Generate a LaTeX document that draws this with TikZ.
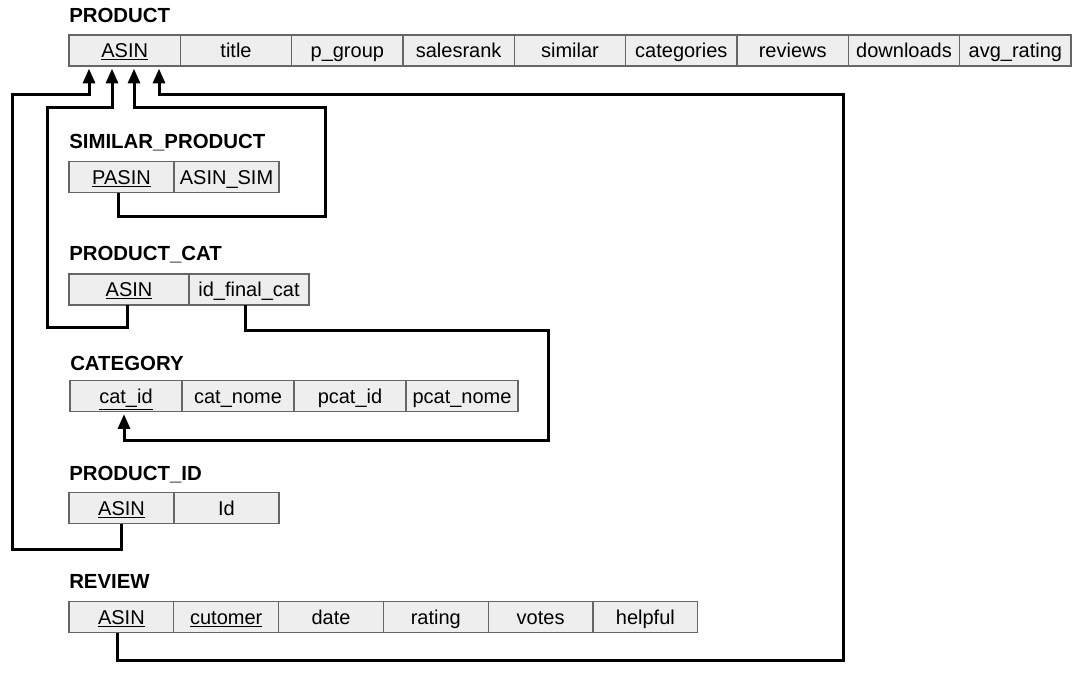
\documentclass[tikz,border=0pt]{standalone}
\usepackage{fontspec}
\setmainfont{Liberation Sans}
\usetikzlibrary{arrows.meta}
\definecolor{cellfill}{HTML}{EEEEEE}
\definecolor{cellborder}{HTML}{666666}
\begin{document}
\begin{tikzpicture}[x=0.75pt,y=-0.75pt,
  cell/.style={draw=cellborder, fill=cellfill, line width=0.9pt, inner sep=0pt, outer sep=0pt,
    minimum height=23.25pt, text height=10.7pt, text depth=0pt, anchor=north west,
    font=\fontsize{15pt}{18pt}\selectfont},
  ttl/.style={anchor=base west, inner sep=0pt, font=\fontsize{15.3pt}{18pt}\selectfont\bfseries},
  conn/.style={line width=2.25pt, line join=miter},
  fk/.style={conn, -{Triangle[length=11pt,width=9pt]}, shorten >=2pt}]
\useasboundingbox (0,0) rectangle (1084,679);

% PRODUCT
\node[ttl] (tprod) at (69,22.7) {PRODUCT};
\node[cell, minimum width=83.5pt] (p1) at (69,35) {\underline{ASIN}};
\node[cell, minimum width=83.5pt] (p2) at (p1.north east) {title};
\node[cell, minimum width=83.5pt] (p3) at (p2.north east) {p\_group};
\node[cell, minimum width=83.5pt] (p4) at (p3.north east) {salesrank};
\node[cell, minimum width=83.5pt] (p5) at (p4.north east) {similar};
\node[cell, minimum width=83.5pt] (p6) at (p5.north east) {categories};
\node[cell, minimum width=83.5pt] (p7) at (p6.north east) {reviews};
\node[cell, minimum width=83.5pt] (p8) at (p7.north east) {downloads};
\node[cell, minimum width=83.5pt] (p9) at (p8.north east) {avg\_rating};

% SIMILAR_PRODUCT
\node[ttl] (tsim) at (69,148) {SIMILAR\_PRODUCT};
\node[cell, minimum width=78.75pt] (sp1) at (69,161.5) {\underline{PASIN}};
\node[cell, minimum width=78.75pt] (sp2) at (sp1.north east) {ASIN\_SIM};

% PRODUCT_CAT
\node[ttl] (tpc) at (69,260.7) {PRODUCT\_CAT};
\node[cell, minimum width=90pt] (pc1) at (69,274) {\underline{ASIN}};
\node[cell, minimum width=90pt] (pc2) at (pc1.north east) {id\_final\_cat};

% CATEGORY
\node[ttl] (tcat) at (70,370.7) {CATEGORY};
\node[cell, minimum width=84pt] (cat1) at (70,380.5) {\underline{cat\_id}};
\node[cell, minimum width=84pt] (cat2) at (cat1.north east) {cat\_nome};
\node[cell, minimum width=84pt] (cat3) at (cat2.north east) {pcat\_id};
\node[cell, minimum width=84pt] (cat4) at (cat3.north east) {pcat\_nome};

% PRODUCT_ID
\node[ttl] (tpid) at (69,480) {PRODUCT\_ID};
\node[cell, minimum width=78.75pt] (pid1) at (69,492.5) {\underline{ASIN}};
\node[cell, minimum width=78.75pt] (pid2) at (pid1.north east) {Id};

% REVIEW
\node[ttl] (trv) at (69,588) {REVIEW};
\node[cell, minimum width=78.6pt] (rv1) at (69,601.5) {\underline{ASIN}};
\node[cell, minimum width=78.6pt] (rv2) at (rv1.north east) {\underline{cutomer}};
\node[cell, minimum width=78.6pt] (rv3) at (rv2.north east) {date};
\node[cell, minimum width=78.6pt] (rv4) at (rv3.north east) {rating};
\node[cell, minimum width=78.6pt] (rv5) at (rv4.north east) {votes};
\node[cell, minimum width=78.6pt] (rv6) at (rv5.north east) {helpful};

% arrow targets on PRODUCT.ASIN
\coordinate (t1) at ([xshift=15pt]p1.south west);
\coordinate (t2) at ([xshift=32.25pt]p1.south west);
\coordinate (t3) at ([xshift=48.75pt]p1.south west);
\coordinate (t4) at ([xshift=67.5pt]p1.south west);

% connectors
\draw[fk] (pid1.south) |- (12,549) -- (12,94) -| (t1);
\draw[fk] ([xshift=-1.5pt]pc1.south) |- (47,327.5) -- (47,107) -| (t2);
\draw[fk] ([xshift=-2.6pt]sp1.south) |- (325,216) -- (325,107) -| (t3);
\draw[fk] ([xshift=-2.6pt]rv1.south) |- (843,660) -- (843,94) -| (t4);
\draw[fk] ([xshift=-2.3pt]pc2.south) |- (548,330) -- (548,440) -| ([xshift=-1.5pt]cat1.south);
\end{tikzpicture}
\end{document}
